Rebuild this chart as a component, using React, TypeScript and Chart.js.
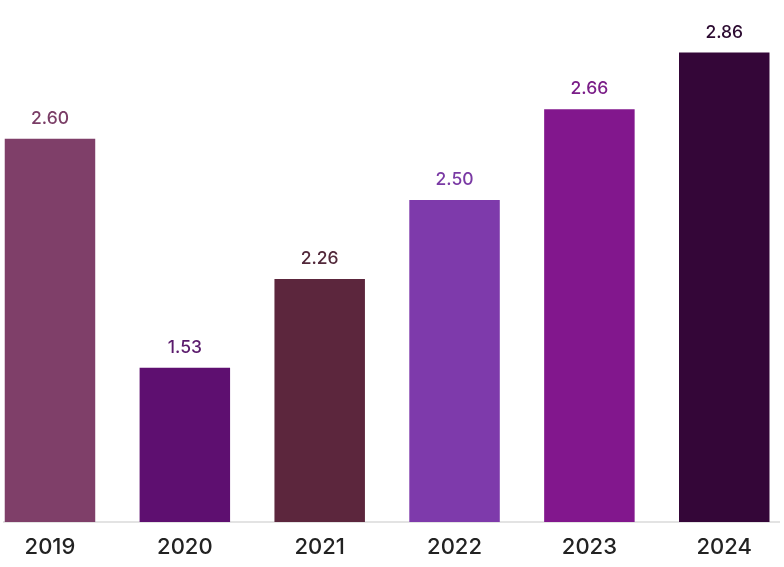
import React, { useEffect, useRef } from "react";
import { Chart, registerables } from "chart.js";

Chart.register(...registerables);

const years = ["2019", "2020", "2021", "2022", "2023", "2024"];
// Printed value labels above bars
const valueLabels = ["2.60", "1.53", "2.26", "2.50", "2.66", "2.86"];
// Bar heights as drawn in the picture (relative units; the tallest bar = 2.86)
const barHeights = [2.334, 0.94, 1.481, 1.962, 2.515, 2.86];
const barColors = ["#7F3F69", "#5E0F70", "#5C263D", "#7E3AAB", "#82178D", "#340638"];
const labelColors = ["#7A3D66", "#5A1A6C", "#52283A", "#7A3AA4", "#7B1E88", "#2B0A30"];

const FONT = "Inter, 'DejaVu Sans', sans-serif";

const valueLabelPlugin = {
  id: "valueLabels",
  afterDatasetsDraw(chart: any) {
    const { ctx } = chart;
    const meta = chart.getDatasetMeta(0);
    ctx.save();
    ctx.font = `500 17.5px ${FONT}`;
    ctx.textAlign = "center";
    ctx.textBaseline = "alphabetic";
    meta.data.forEach((bar: any, i: number) => {
      ctx.fillStyle = labelColors[i];
      ctx.fillText(valueLabels[i], bar.x, bar.y - 15);
    });
    ctx.restore();
  },
};

export default function App() {
  const ref = useRef<HTMLCanvasElement | null>(null);
  useEffect(() => {
    if (!ref.current) return;
    const chart = new Chart(ref.current, {
      type: "bar",
      data: {
        datasets: [
          {
            data: years.map((_, i) => ({ x: i, y: barHeights[i] })),
            backgroundColor: barColors,
            borderWidth: 0,
            barPercentage: 1,
            categoryPercentage: 0.671,
          },
        ],
      },
      options: {
        responsive: false,
        animation: false,
        devicePixelRatio: 1,
        layout: { padding: { left: 4, right: 5, top: 0, bottom: 0 } },
        plugins: { legend: { display: false }, tooltip: { enabled: false } },
        scales: {
          x: {
            type: "linear",
            offset: false,
            min: -0.341,
            max: 5.406,
            grid: { display: false, drawTicks: false, offset: false },
            border: { display: true, color: "#E3E3E3", width: 2 },
            afterBuildTicks: (axis: any) => {
              axis.ticks = years.map((_, i) => ({ value: i }));
            },
            afterFit: (axis: any) => {
              axis.height = 45;
            },
            ticks: {
              padding: 12.5,
              color: "#222222",
              font: { family: FONT, size: 22, weight: 500 },
              maxRotation: 0,
              autoSkip: false,
              callback: (v: any) => years[Math.round(Number(v))] ?? "",
            },
          },
          y: {
            display: false,
            min: 0,
            max: 3.18,
          },
        },
      },
      plugins: [valueLabelPlugin],
    });
    return () => chart.destroy();
  }, []);
  return (
    <div style={{ position: "absolute", left: 0, top: 0, width: 784, height: 567, background: "#fff" }}>
      <canvas ref={ref} width={784} height={567} style={{ display: "block" }} />
    </div>
  );
}
